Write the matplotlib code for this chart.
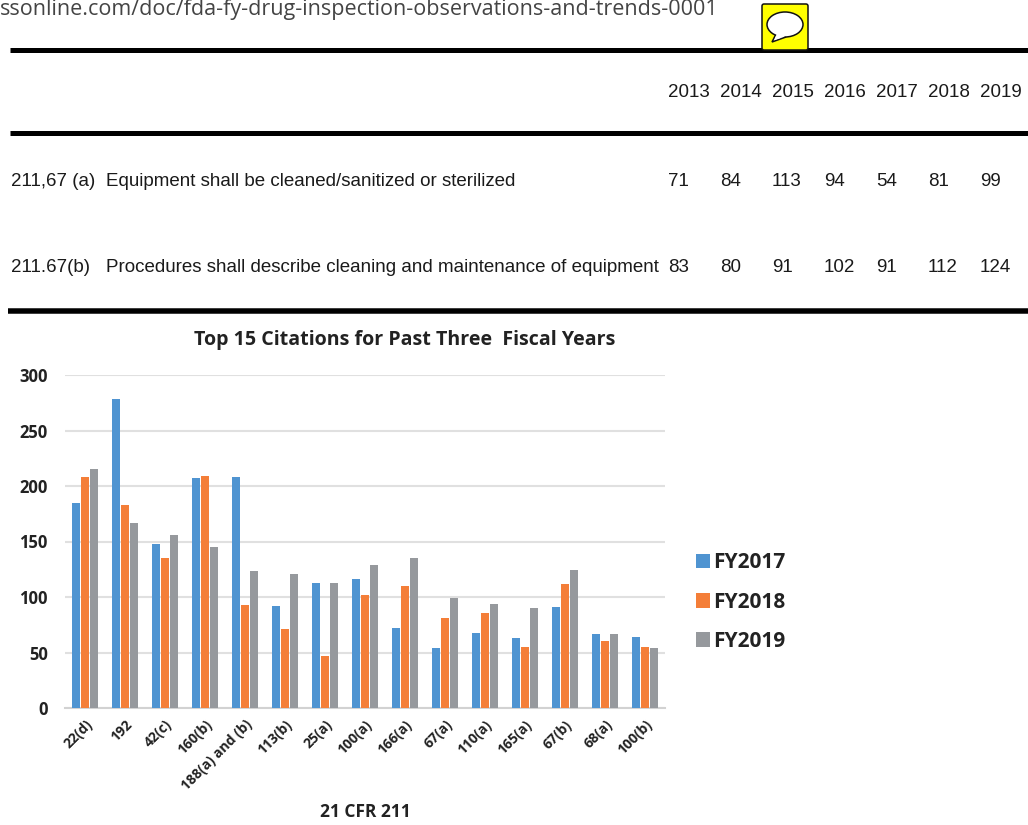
import matplotlib
matplotlib.use("Agg")
import matplotlib.pyplot as plt
from matplotlib.patches import FancyBboxPatch, Ellipse, Polygon
from matplotlib.lines import Line2D
import numpy as np

W, H = 1028, 825

# Citation counts per CFR section
sections = ["22(d)", "192", "42(c)", "160(b)", "188(a) and (b)", "113(b)", "25(a)", "100(a)",
            "166(a)", "67(a)", "110(a)", "165(a)", "67(b)", "68(a)", "100(b)"]
fy2017 = [185, 278, 148, 207, 208, 92, 113, 116, 72, 54, 68, 63, 91, 67, 64]
fy2018 = [208, 183, 135, 209, 93, 71, 47, 102, 110, 81, 86, 55, 112, 60, 55]
fy2019 = [215, 167, 156, 145, 123, 121, 113, 129, 135, 99, 94, 90, 124, 67, 54]
series_names = ["FY2017", "FY2018", "FY2019"]
series_colors = ["#4f94d1", "#f47e38", "#96999d"]
y_ticks = [0, 50, 100, 150, 200, 250, 300]

# Table rows
years = [2013, 2014, 2015, 2016, 2017, 2018, 2019]
row_a = [71, 84, 113, 94, 54, 81, 99]
row_b = [83, 80, 91, 102, 91, 112, 124]
year_x = [668, 720, 772, 824, 876, 928, 980]

fig = plt.figure(figsize=(W / 100, H / 100), dpi=100, facecolor="white")

# Full-figure layer in pixel units for the table and header
bg = fig.add_axes([0, 0, 1, 1])
bg.set_xlim(0, W)
bg.set_ylim(H, 0)
bg.axis("off")

table_font = "Liberation Sans"
table_size = 13.5
ink = "#1a1a1a"
header_y, row_a_y, row_b_y = 92.5, 181.5, 267.5
bg.text(0, 9, "ssonline.com/doc/fda-fy-drug-inspection-observations-and-trends-0001",
        fontsize=15.5, family="Open Sans", color="#444444", va="center", ha="left")

for y0, x0, lw in [(50, 10, 5), (133, 10, 5), (311, 8, 5.5)]:
    bg.add_line(Line2D([x0, W], [y0, y0], color="black", lw=lw * 0.72, solid_capstyle="butt"))

for x, yr in zip(year_x, years):
    bg.text(x, header_y, str(yr), fontsize=table_size, family=table_font, color=ink, va="center")
bg.text(11, row_a_y, "211,67 (a)", fontsize=table_size, family=table_font, color=ink, va="center")
bg.text(106, row_a_y, "Equipment shall be cleaned/sanitized or sterilized",
        fontsize=table_size, family=table_font, color=ink, va="center")
bg.text(11, row_b_y, "211.67(b)", fontsize=table_size, family=table_font, color=ink, va="center")
bg.text(106, row_b_y, "Procedures shall describe cleaning and maintenance of equipment",
        fontsize=table_size, family=table_font, color=ink, va="center")
for x, a, b in zip(year_x, row_a, row_b):
    bg.text(x, row_a_y, str(a), fontsize=table_size, family=table_font, color=ink, va="center")
    bg.text(x, row_b_y, str(b), fontsize=table_size, family=table_font, color=ink, va="center")

# Comment icon
bg.add_patch(FancyBboxPatch((762, 4), 46, 46, boxstyle="round,pad=0,rounding_size=2",
                            fc="#ffff00", ec="#111111", lw=1.1, zorder=3))
bg.add_patch(Polygon([[776, 34], [772, 42], [786, 37]], closed=True,
                     fc="white", ec="#111111", lw=1.1, zorder=4))
bg.add_patch(Ellipse((785, 24.5), 36, 25, fc="white", ec="#111111", lw=1.1, zorder=4))
bg.add_patch(Polygon([[777, 33], [774.5, 40], [785, 36.5]], closed=True,
                     fc="white", ec="none", zorder=5))

# Bar chart
ax = fig.add_axes([65 / W, 1 - 708 / H, 600 / W, 333 / H])
ax.patch.set_alpha(0)
x = np.arange(len(sections))
bar_w = 0.2
gap = 0.225
for i, (vals, c, name) in enumerate(zip([fy2017, fy2018, fy2019], series_colors, series_names)):
    ax.bar(x + (i - 1) * gap + 0.01, vals, bar_w, color=c, label=name, zorder=3)

ax.set_xlim(-0.5, 14.5)
ax.set_ylim(0, 300)
ax.set_yticks(y_ticks)
ax.set_xticks(x)
ax.set_xticklabels(sections, rotation=45, ha="right", rotation_mode="anchor",
                   fontsize=10, family="Open Sans", fontweight="bold", color="#222222")
for lab in ax.get_yticklabels():
    lab.set_fontsize(12)
    lab.set_family("Open Sans")
    lab.set_fontweight("bold")
    lab.set_color("#222222")
ax.tick_params(axis="both", length=0)
ax.tick_params(axis="y", pad=12.5)
ax.tick_params(axis="x", pad=7)
ax.grid(axis="y", color="#e0e0e0", lw=1.5, zorder=0)
ax.set_axisbelow(True)
for side in ["top", "right", "left"]:
    ax.spines[side].set_visible(False)
ax.spines["bottom"].set_color("#d2d2d2")
ax.spines["bottom"].set_linewidth(1.5)

fig.text(405 / W, 1 - 340 / H, "Top 15 Citations for Past Three  Fiscal Years", fontsize=14.1,
         family="Open Sans", fontweight="bold", color="#222222", ha="center", va="center")
fig.text(365 / W, 1 - 812 / H, "21 CFR 211", fontsize=12.5, family="Open Sans",
         fontweight="bold", color="#222222", ha="center", va="center")

handles, labels = ax.get_legend_handles_labels()
fig.legend(handles, labels, loc="center left", bbox_to_anchor=(677 / W, 1 - 602 / H),
           frameon=False, handlelength=0.7, handleheight=0.7, handletextpad=0.12,
           labelspacing=0.88, prop={"family": "Open Sans", "weight": "bold", "size": 15},
           labelcolor="#222222")

fig.savefig("out.png", dpi=100)
